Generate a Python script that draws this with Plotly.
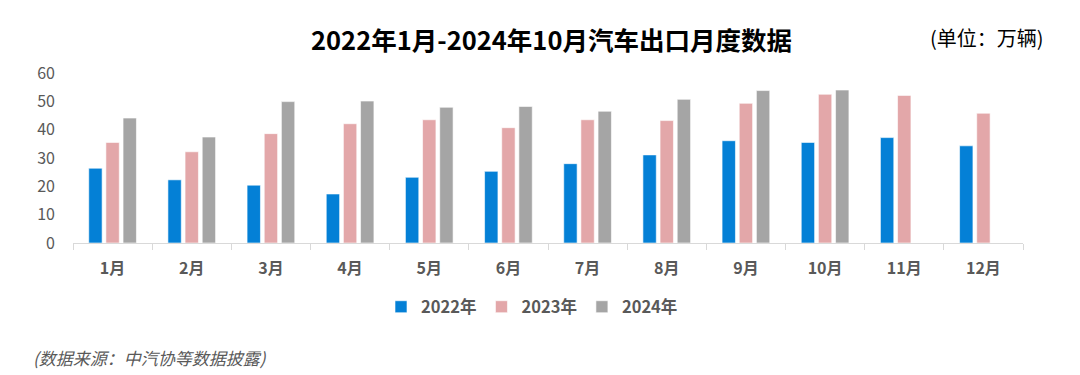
import plotly.graph_objects as go

months = ["1月", "2月", "3月", "4月", "5月", "6月", "7月", "8月", "9月", "10月", "11月", "12月"]
y2022 = [26.4, 22.3, 20.4, 17.3, 23.2, 25.3, 28.0, 31.1, 36.1, 35.5, 37.2, 34.3]
y2023 = [35.5, 32.2, 38.6, 42.1, 43.5, 40.7, 43.5, 43.2, 49.3, 52.5, 52.1, 45.8]
y2024 = [44.1, 37.4, 49.9, 50.1, 47.9, 48.2, 46.5, 50.7, 53.8, 54.0, None, None]
series_names = ["2022年", "2023年", "2024年"]
colors = ["#0480D6", "#E3A7A9", "#A5A5A5"]

FONT = "Noto Sans CJK SC"
GRAY = "#595959"

L, R, T, B = 73, 57, 73, 132
PW, PH = 1080 - L - R, 375 - T - B


def px(x):
    return (x - L) / PW


def py(y):
    return (375 - B - y) / PH


fig = go.Figure()
for name, vals, col in zip(series_names, [y2022, y2023, y2024], colors):
    fig.add_trace(go.Bar(
        x=months, y=vals, name=name,
        marker=dict(color=col, line=dict(color="rgba(255,255,255,0.6)", width=1)),
    ))

fig.update_layout(
    width=1080, height=375,
    margin=dict(l=L, r=R, t=T, b=B),
    paper_bgcolor="white", plot_bgcolor="white",
    barmode="group", bargap=0.35, bargroupgap=0.22,
    font=dict(family=FONT, color=GRAY),
    showlegend=True,
    legend=dict(orientation="h", x=px(532), xanchor="center", y=py(307), yanchor="middle",
                font=dict(size=16.5, color=GRAY, family=FONT, weight="bold"),
                itemwidth=30, traceorder="normal"),
)
fig.update_xaxes(
    showline=True, linecolor="#D9D9D9", linewidth=1,
    ticks="outside", tickson="boundaries", ticklen=6, tickcolor="#D9D9D9",
    tickfont=dict(size=16, color=GRAY, family=FONT, weight="bold"),
    ticklabelstandoff=11,
    showgrid=False, automargin=False,
)
fig.update_yaxes(
    range=[0, 60], dtick=10, showgrid=False, showline=False, zeroline=False,
    tickfont=dict(size=16, color=GRAY, family=FONT),
    ticklabelstandoff=17, automargin=False,
)
fig.add_annotation(
    text="<b>2022年1月-2024年10月汽车出口月度数据</b>", xref="paper", yref="paper",
    x=px(551), y=py(38), xanchor="center", yanchor="middle",
    showarrow=False, font=dict(size=25.5, color="#000000", family=FONT),
)
fig.add_annotation(
    text="(单位：万辆)", xref="paper", yref="paper",
    x=px(1046), y=py(37), xanchor="right", yanchor="middle",
    showarrow=False, font=dict(size=20, color="#000000", family=FONT),
)
fig.add_annotation(
    text="<i>(数据来源：中汽协等数据披露)</i>", xref="paper", yref="paper",
    x=px(31), y=py(357), xanchor="left", yanchor="middle",
    showarrow=False, font=dict(size=17, color=GRAY, family=FONT),
)

fig.write_html(
    "out.html",
    config={"displayModeBar": False},
    post_script="document.body.style.margin='0';document.body.style.overflow='hidden';",
)
